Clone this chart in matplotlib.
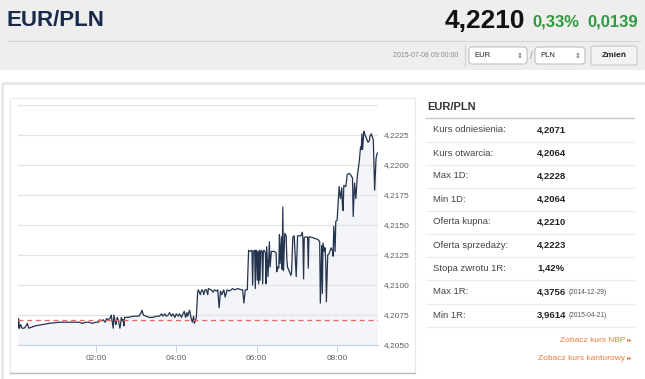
import matplotlib
matplotlib.use("Agg")
import matplotlib.pyplot as plt
from matplotlib.patches import Rectangle, FancyBboxPatch
from matplotlib import font_manager
from matplotlib.ticker import FuncFormatter

# EUR/PLN quotes, minutes after midnight (2015-07-08)
quote_minutes = [
    4, 5, 6, 8, 10, 13, 15, 18, 20, 30, 50, 66, 80, 95, 100, 105, 110, 115, 120, 124,
    126, 128, 131, 134, 136, 138, 141, 143, 145, 146, 147, 149, 150, 152, 154, 156, 157, 158,
    160, 161, 162, 163, 168, 176, 184, 187, 189, 191, 195, 200, 205, 210, 215, 218, 220, 223,
    225, 228, 230, 233, 235, 238, 240, 243, 245, 248, 250, 252, 254, 256, 257, 260, 262, 264,
    266, 267, 269, 270,
    272, 273, 276, 278, 280, 281, 283, 285, 287, 288, 292, 295, 297, 300, 302, 304, 306, 308,
    311, 313, 316, 319, 322, 324, 327, 332, 337, 339, 341, 343, 346,
    348, 350, 353, 354, 355, 357, 358, 359, 360, 361, 362, 363, 364, 365, 366, 367, 368, 369,
    370, 371, 373, 374, 375, 377, 379, 380, 382, 386, 389, 390, 391, 393, 394, 395, 397, 398,
    399, 400, 402, 404, 405, 406, 409, 411, 412, 414, 416, 419, 421, 426, 428, 429, 430, 431,
    432, 436, 437, 438, 441,
    446, 451, 453, 454, 455, 457, 458, 459, 461, 462, 463, 464, 466, 468, 471, 473, 474, 475,
    477, 478, 480, 483, 485, 487, 488, 489, 490, 493, 495, 498, 500, 503, 504, 506, 508, 510,
    513, 515, 516, 517, 518, 520, 521, 524, 526, 528, 529, 531, 534, 536, 538, 539, 540,
]
quote_rates = [
    4.2064, 4.2072, 4.2064, 4.2067, 4.2064, 4.2064, 4.2065, 4.2068, 4.2064, 4.2066, 4.2068,
    4.2069, 4.2069, 4.2069, 4.2068, 4.2069, 4.2069, 4.2068, 4.2069, 4.2069,
    4.2071, 4.2070, 4.2071, 4.2069, 4.2072, 4.2071, 4.2072, 4.2075, 4.2068, 4.2064, 4.2075,
    4.2069, 4.2067, 4.2073, 4.2070, 4.2064, 4.2067, 4.2073, 4.2070, 4.2071, 4.2066, 4.2073,
    4.2073, 4.2074, 4.2074, 4.2076, 4.2079, 4.2075, 4.2074, 4.2073, 4.2073, 4.2074, 4.2074,
    4.2076, 4.2074, 4.2076, 4.2074, 4.2075, 4.2077, 4.2074, 4.2076, 4.2073, 4.2076, 4.2074,
    4.2076, 4.2073, 4.2076, 4.2078, 4.2073, 4.2077, 4.2074, 4.2079, 4.2073, 4.2069, 4.2074,
    4.2068, 4.2071, 4.2073,
    4.2094, 4.2096, 4.2092, 4.2096, 4.2095, 4.2092, 4.2096, 4.2096, 4.2092, 4.2097, 4.2096,
    4.2094, 4.2096, 4.2095, 4.2096, 4.2081, 4.2095, 4.2092, 4.2096, 4.2090, 4.2096, 4.2095,
    4.2096, 4.2097, 4.2096, 4.2097, 4.2096, 4.2096, 4.2085, 4.2096, 4.2096,
    4.2129, 4.2128, 4.2129, 4.2100, 4.2128, 4.2129, 4.2097, 4.2129, 4.2128, 4.2104, 4.2128,
    4.2101, 4.2129, 4.2104, 4.2128, 4.2129, 4.2128, 4.2101, 4.2128, 4.2129, 4.2127, 4.2101,
    4.2132, 4.2107, 4.2136, 4.2115, 4.2128, 4.2128, 4.2127, 4.2111, 4.2115, 4.2114, 4.2142,
    4.2118, 4.2140, 4.2113, 4.2165, 4.2112, 4.2143, 4.2141, 4.2122, 4.2115, 4.2111, 4.2108,
    4.2110, 4.2140, 4.2141, 4.2107, 4.2141, 4.2141, 4.2144, 4.2139, 4.2105, 4.2139, 4.2140,
    4.2140, 4.2114, 4.2140, 4.2140,
    4.2139, 4.2138, 4.2137, 4.2136, 4.2085, 4.2133, 4.2093, 4.2135, 4.2128, 4.2131, 4.2120,
    4.2086, 4.2125, 4.2126, 4.2131, 4.2129, 4.2124, 4.2149, 4.2128, 4.2153, 4.2154, 4.2182,
    4.2172, 4.2181, 4.2166, 4.2162, 4.2183, 4.2182, 4.2192, 4.2193, 4.2192, 4.2189, 4.2157,
    4.2185, 4.2172, 4.2190, 4.2203, 4.2215, 4.2213, 4.2226, 4.2213, 4.2228, 4.2226, 4.2222,
    4.2219, 4.2220, 4.2224, 4.2226, 4.2221, 4.2179, 4.2205, 4.2208, 4.2210,
]
reference_rate = 4.2071

y_ticks = [4.2050, 4.2075, 4.2100, 4.2125, 4.2150, 4.2175, 4.2200, 4.2225, 4.2250]
x_tick_minutes = [120, 240, 360, 480]
x_tick_labels = ["02:00", "04:00", "06:00", "08:00"]

pair = "EUR/PLN"
last_rate = "4,2210"
change_pct = "0,33%"
change_abs = "0,0139"
timestamp = "2015-07-08 09:00:00"

stat_labels = ["Kurs odniesienia:", "Kurs otwarcia:", "Max 1D:", "Min 1D:", "Oferta kupna:",
               "Oferta sprzedaży:", "Stopa zwrotu 1R:", "Max 1R:", "Min 1R:"]
stat_values = ["4,2071", "4,2064", "4,2228", "4,2064", "4,2210", "4,2223", "1,42%",
               "4,3756", "3,9614"]
stat_dates = ["", "", "", "", "", "", "", "(2014-12-29)", "(2015-04-21)"]
links = ["Zobacz kurs NBP", "Zobacz kurs kantorowy"]

W, H = 645, 379
names = {f.name for f in font_manager.fontManager.ttflist}
narrow = "Liberation Sans Narrow" in names
plt.rcParams["font.family"] = ["Liberation Sans", "DejaVu Sans"]

fig = plt.figure(figsize=(W / 100, H / 100), dpi=100)
fig.patch.set_facecolor("white")

# page decoration in pixel coordinates (y down)
bg = fig.add_axes([0, 0, 1, 1], zorder=0)
bg.set_xlim(0, W)
bg.set_ylim(H, 0)
bg.axis("off")

bg.add_patch(Rectangle((0, 0), W, 70, color="#eeeeee", lw=0))
if narrow:
    bg.text(7, 21, pair, fontsize=19, fontweight="bold", color="#172a4a", va="center",
            family=["Liberation Sans Narrow", "DejaVu Sans"])
else:
    bg.text(7, 21, pair, fontsize=16, fontweight="bold", color="#172a4a", va="center")
bg.text(525, 21, last_rate, fontsize=19, fontweight="bold", color="#111111", va="center", ha="right")
bg.text(532, 22, change_pct, fontsize=12, fontweight="bold", color="#2f9a3c", va="center")
bg.text(638, 22, change_abs, fontsize=12, fontweight="bold", color="#2f9a3c", va="center", ha="right")
bg.plot([8, 640], [40.5, 40.5], color="#d4d4d4", lw=0.8)

bg.text(458, 55.5, timestamp, fontsize=5, color="#8a8a8a", va="center", ha="right")
bg.plot([464.5, 464.5], [45, 66], color="#d0d0d0", lw=0.8)
for x0, w, txt in [(469, 58, "EUR"), (535, 50, "PLN")]:
    bg.add_patch(FancyBboxPatch((x0, 47), w, 17, boxstyle="round,pad=0,rounding_size=3",
                                fc="white", ec="#b8b8b8", lw=0.7))
    bg.text(x0 + 5, 55.5, txt, fontsize=5.5, color="#222222", va="center")
    bg.text(x0 + w - 7, 55.5, "\u21d5", fontsize=5, color="#555555", va="center", ha="center",
            family=["DejaVu Sans"])
bg.text(531, 56, "/", fontsize=7, color="#999999", va="center", ha="center")
bg.add_patch(FancyBboxPatch((591, 46), 46, 19, boxstyle="round,pad=0,rounding_size=2",
                            fc="#f3f3f3", ec="#c4c4c4", lw=0.7))
bg.text(614, 55.5, "Zmień", fontsize=6, fontweight="bold", color="#222222", va="center", ha="center")

# boxes
bg.add_patch(Rectangle((2, 83), W, 300, fc="none", ec="#e6e6e6", lw=2))
bg.add_patch(Rectangle((10, 98), 405, 275, fc="white", ec="#e8e8e8", lw=0.8))
bg.plot([10, 415], [373, 373], color="#bdbdbd", lw=1)

# statistics panel
bg.text(427, 107, pair, fontsize=8, fontweight="bold", color="#333333", va="center")
bg.plot([426, 634], [118, 118], color="#c8c8c8", lw=1)
row_y = [130, 153, 176, 199, 222, 245, 268.5, 292, 315]
for i, y in enumerate(row_y):
    bg.text(433, y, stat_labels[i], fontsize=6.8, color="#444444", va="center")
    bg.text(537, y, stat_values[i], fontsize=6.8, fontweight="bold", color="#222222", va="center")
    if stat_dates[i]:
        bg.text(569, y + 0.5, stat_dates[i], fontsize=4.8, color="#555555", va="center")
    bg.plot([426, 634], [y + 11.8, y + 11.8], color="#ececec", lw=0.8)
for y, txt in zip([340, 358], links):
    bg.text(625, y, txt, fontsize=6, color="#f07a3c", va="center", ha="right")
    bg.text(632, y, "\u25b8\u25b8", fontsize=4, color="#f07a3c", va="center", ha="right",
            family=["DejaVu Sans"])

# chart
left, right, top, bottom = 18, 378, 105, 345
ax = fig.add_axes([left / W, 1 - bottom / H, (right - left) / W, (bottom - top) / H], zorder=1)
ax.set_facecolor("none")
ax.fill_between(quote_minutes, quote_rates, y_ticks[0], color="#f3f5f8", lw=0, zorder=1)
ax.plot(quote_minutes, quote_rates, color="#24344f", lw=0.9, zorder=3)
ax.axhline(reference_rate, color="#f26464", lw=0.9, ls=(0, (4, 3)), zorder=4)

ax.set_xlim(4, 541)
ax.set_ylim(y_ticks[0], y_ticks[-1])
ax.set_yticks(y_ticks)
ax.yaxis.tick_right()
ax.yaxis.set_major_formatter(FuncFormatter(
    lambda v, p: "" if v > 4.2249 else f"{v:.4f}".replace(".", ",")))
ax.grid(axis="y", color="#e3e3e3", lw=0.9, zorder=0)
ax.set_xticks(x_tick_minutes)
ax.set_xticklabels(x_tick_labels)
ax.tick_params(axis="y", length=0, pad=4, labelsize=6, labelcolor="#606060")
ax.tick_params(axis="x", length=5, width=0.8, color="#c8d4e2", pad=2, labelsize=6,
               labelcolor="#606060")
for s in ["top", "left", "right"]:
    ax.spines[s].set_visible(False)
ax.spines["bottom"].set_color("#c8d4e2")
ax.spines["bottom"].set_linewidth(0.9)

fig.savefig("out.png", dpi=100)
